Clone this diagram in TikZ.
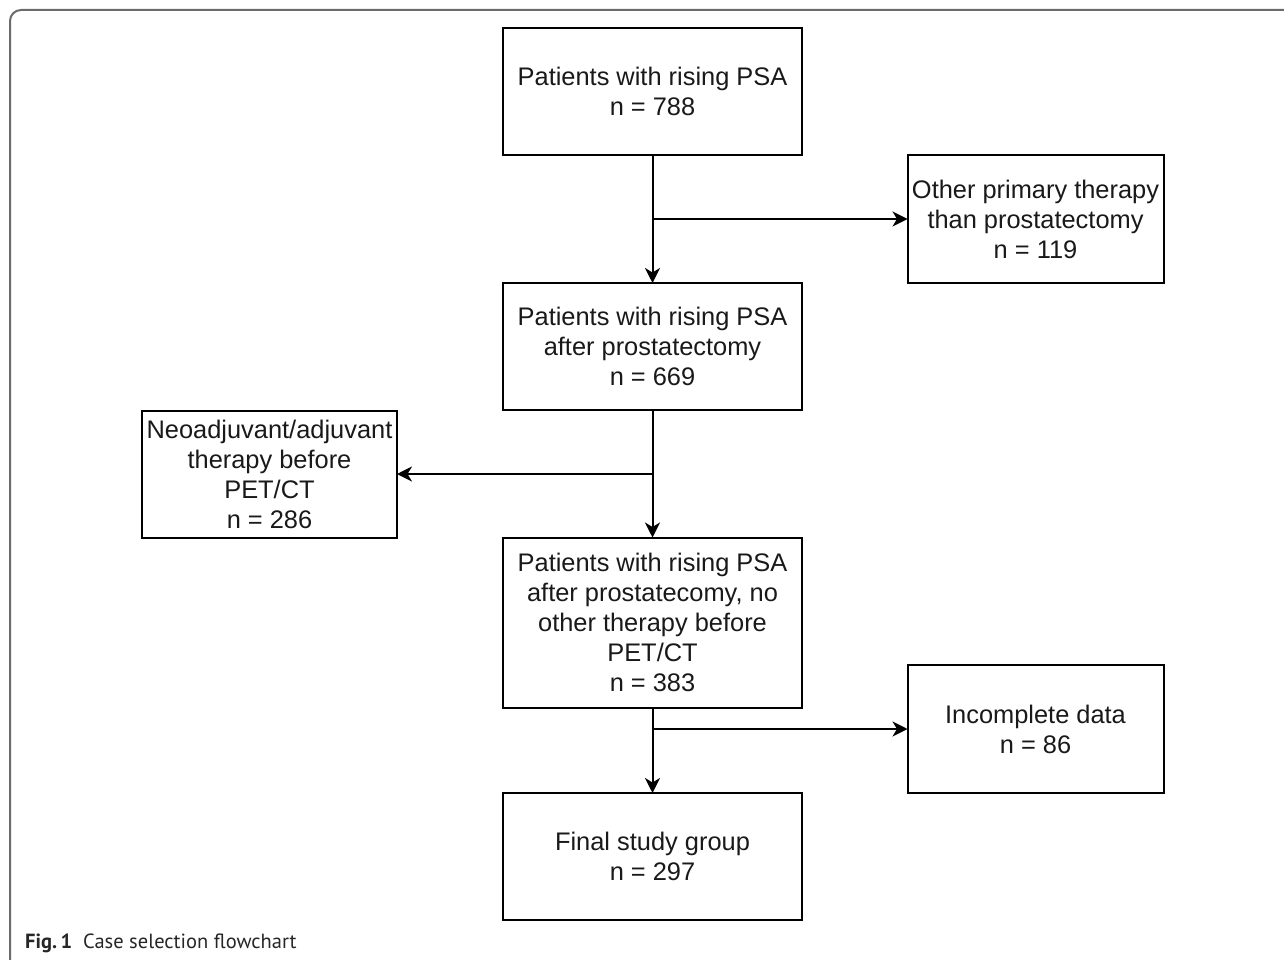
\documentclass[tikz,border=0pt]{standalone}
\usepackage{fontspec}
\setmainfont{Liberation Sans}
\newfontfamily\capfont{PT Sans}
\usetikzlibrary{arrows.meta}
\begin{document}
\begin{tikzpicture}[x=1pt,y=-1pt,
  box/.style={draw=black, line width=2pt, inner sep=0pt, outer sep=0pt, align=center,
    font=\fontsize{25.4}{30}\selectfont, text=black!90},
  wbox/.style={box, minimum width=299pt, minimum height=127pt},
  sbox/.style={box, minimum width=256pt, minimum height=128pt},
  arr/.style={line width=2pt, -{Stealth[length=15pt,width=15pt,inset=4.5pt]}},
  ln/.style={line width=2pt}]
\useasboundingbox (0,0) rectangle (1284,960);
\draw[line width=2pt, draw=black!58, rounded corners=11pt] (10,962) -- (10,10) -- (1286,10);
\node[wbox] (b1) at (652.5,91.5) {Patients with rising PSA\\n = 788};
\node[sbox] (b2) at (1035.5,219) {Other primary therapy\\than prostatectomy\\n = 119};
\node[wbox] (b3) at (652.5,346.5) {Patients with rising PSA\\after prostatectomy\\n = 669};
\node[sbox, minimum width=255pt, minimum height=127pt] (b4) at (269.5,474) {Neoadjuvant/adjuvant\\therapy before\\PET/CT\\n = 286};
\node[wbox, minimum height=170pt] (b5) at (652.5,622.5) {Patients with rising PSA\\after prostatecomy, no\\other therapy before\\PET/CT\\n = 383};
\node[sbox] (b6) at (1035.5,729) {Incomplete data\\n = 86};
\node[wbox] (b7) at (652.5,856.5) {Final study group\\n = 297};
\draw[arr] (b1.south) -- (b3.north);
\draw[arr] (b1.south |- b2.west) -- (b2.west);
\draw[arr] (b3.south) -- (b5.north);
\draw[arr] (b3.south |- b4.east) -- (b4.east);
\draw[arr] (b5.south) -- (b7.north);
\draw[arr] (b5.south |- b6.west) -- (b6.west);
\node[anchor=base west, inner sep=0pt, font=\capfont\fontsize{20.5}{24}\selectfont, text=black!85] (cap) at (25,948)
  {\textbf{Fig.\,1}\hspace{11pt}Case selection flowchart};
\end{tikzpicture}
\end{document}
